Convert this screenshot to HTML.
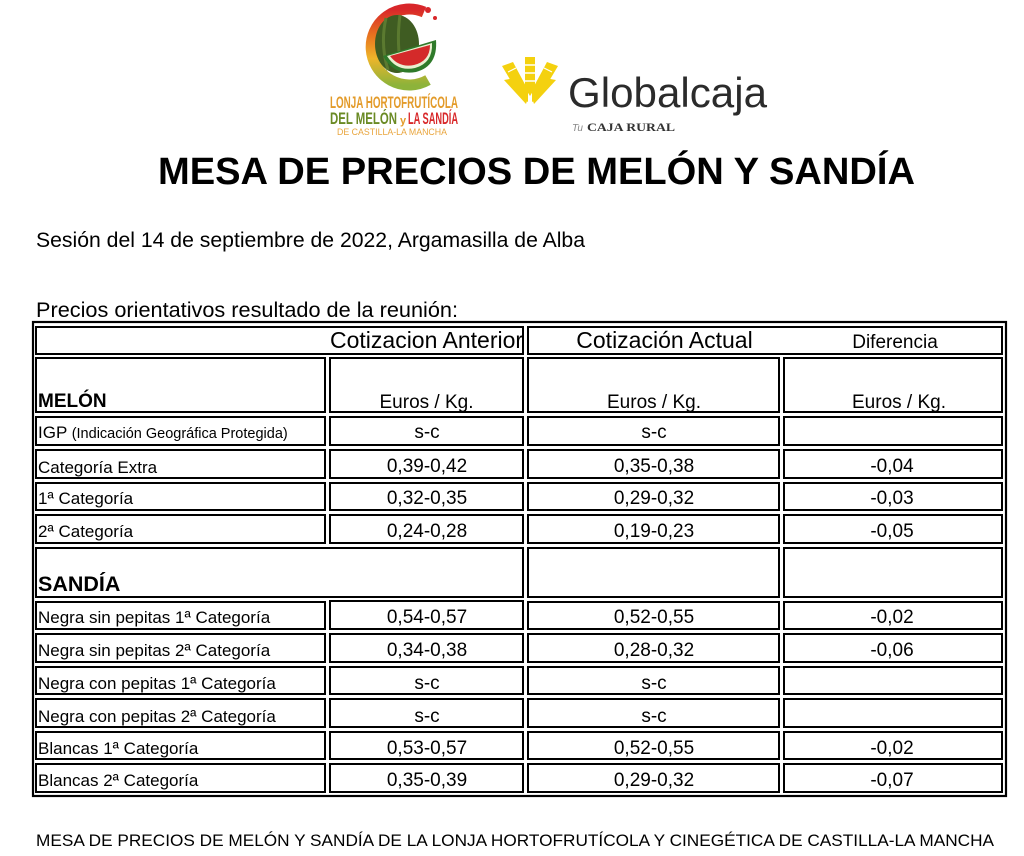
<!DOCTYPE html>
<html>
<head>
<meta charset="utf-8">
<style>
html,body{margin:0;padding:0;background:#fff;}
svg{display:block;}
text{font-family:"Liberation Sans",Arial,sans-serif;fill:#000;}
.lbl{font-size:17px;}
.val{font-size:19px;text-anchor:middle;}
</style>
</head>
<body>
<svg width="1024" height="856" viewBox="0 0 1024 856" xmlns="http://www.w3.org/2000/svg">
<defs>
  <linearGradient id="ring" x1="0" y1="0" x2="0" y2="1">
    <stop offset="0" stop-color="#d8262a"/>
    <stop offset="0.35" stop-color="#e8741f"/>
    <stop offset="0.65" stop-color="#eeb52a"/>
    <stop offset="1" stop-color="#8db33a"/>
  </linearGradient>
  <clipPath id="hdrclip"><rect x="36" y="326" width="486" height="29"/></clipPath>
</defs>
<rect width="1024" height="856" fill="#fff"/>

<!-- Left logo -->
<g>
  <path d="M424 12 A38 38 0 1 0 428 80" fill="none" stroke="url(#ring)" stroke-width="11"/>
  <circle cx="428" cy="10" r="3" fill="#d8262a"/>
  <circle cx="435" cy="18" r="2" fill="#d8262a"/>
  <ellipse cx="397" cy="44" rx="22" ry="29" fill="#3f5c22"/>
  <path d="M386 18 Q380 44 388 70" stroke="#5b7a30" stroke-width="3" fill="none"/>
  <path d="M400 15 Q396 44 402 72" stroke="#5b7a30" stroke-width="3" fill="none"/>
  <path d="M383 56 L436 40 Q438 66 416 72 Q394 76 383 56 Z" fill="#2f7a2a"/>
  <path d="M387 56 L432 43 Q433 63 415 68 Q397 72 387 56 Z" fill="#e9f0d0"/>
  <path d="M390 56 L430 45 Q430 61 414 65 Q399 68 390 56 Z" fill="#d42a2a"/>
  <text x="330" y="108" font-size="17" font-weight="bold" style="fill:#e39b2a" textLength="128" lengthAdjust="spacingAndGlyphs">LONJA HORTOFRUTÍCOLA</text>
  <text x="330" y="124" font-size="17" font-weight="bold" style="fill:#6a8a24" textLength="67" lengthAdjust="spacingAndGlyphs">DEL MELÓN</text>
  <text x="400" y="124" font-size="11" font-weight="bold" style="fill:#e39b2a">y</text>
  <text x="408" y="124" font-size="17" font-weight="bold" style="fill:#d8282a" textLength="50" lengthAdjust="spacingAndGlyphs">LA SANDÍA</text>
  <text x="337" y="135" font-size="9" style="fill:#e9a53d" textLength="110" lengthAdjust="spacingAndGlyphs">DE CASTILLA-LA MANCHA</text>
</g>

<!-- Globalcaja logo -->
<g fill="#f4d10f">
  <path d="M525 57 L535 57 L535 88 L530 96 L525 88 Z"/>
  <path d="M502 66 L513 62 L528 90 L528 102 L521 98 Z"/>
  <path d="M558 66 L547 62 L532 90 L532 102 L539 98 Z"/>
  <path d="M504 80 L515 78 L528 98 L526 104 Z"/>
  <path d="M556 80 L545 78 L532 98 L534 104 Z"/>
  <line x1="524" y1="65" x2="536" y2="65" stroke="#fff" stroke-width="1.5"/>
  <line x1="524" y1="73" x2="536" y2="73" stroke="#fff" stroke-width="1.5"/>
  <line x1="524" y1="81" x2="536" y2="81" stroke="#fff" stroke-width="1.5"/>
  <line x1="508" y1="72" x2="516" y2="68" stroke="#fff" stroke-width="1.2"/>
  <line x1="552" y1="72" x2="544" y2="68" stroke="#fff" stroke-width="1.2"/>
</g>
<text x="568" y="107" font-size="42" style="fill:#2b2b2b" textLength="199" lengthAdjust="spacingAndGlyphs">Globalcaja</text>
<text x="572" y="131" font-size="10" font-style="italic" style="fill:#888">Tu</text>
<text x="587" y="131" font-size="12" font-weight="bold" style="fill:#333;font-family:'Liberation Serif',serif" textLength="88" lengthAdjust="spacingAndGlyphs">CAJA RURAL</text>

<!-- Title -->
<text x="536.5" y="184" font-size="38" font-weight="bold" text-anchor="middle" textLength="757" lengthAdjust="spacingAndGlyphs">MESA DE PRECIOS DE MELÓN Y SANDÍA</text>

<text x="36" y="247" font-size="21" textLength="549" lengthAdjust="spacingAndGlyphs">Sesión del 14 de septiembre de 2022, Argamasilla de Alba</text>
<text x="36" y="317" font-size="21" textLength="422" lengthAdjust="spacingAndGlyphs">Precios orientativos resultado de la reunión:</text>

<!-- Table frame -->
<rect x="33" y="322" width="973" height="474" fill="none" stroke="#000" stroke-width="2.2"/>

<g fill="none" stroke="#000" stroke-width="2">
  <!-- header -->
  <rect x="36" y="327" width="487" height="27"/>
  <rect x="528" y="327" width="474" height="27"/>
  <!-- R1 -->
  <rect x="36" y="358" width="289" height="54"/>
  <rect x="330" y="358" width="193" height="54"/>
  <rect x="528" y="358" width="251" height="54"/>
  <rect x="784" y="358" width="218" height="54"/>
  <!-- R2 -->
  <rect x="36" y="417" width="289" height="28"/>
  <rect x="330" y="417" width="193" height="28"/>
  <rect x="528" y="417" width="251" height="28"/>
  <rect x="784" y="417" width="218" height="28"/>
  <!-- R3 -->
  <rect x="36" y="450" width="289" height="28"/>
  <rect x="330" y="450" width="193" height="28"/>
  <rect x="528" y="450" width="251" height="28"/>
  <rect x="784" y="450" width="218" height="28"/>
  <!-- R4 -->
  <rect x="36" y="483" width="289" height="27"/>
  <rect x="330" y="483" width="193" height="27"/>
  <rect x="528" y="483" width="251" height="27"/>
  <rect x="784" y="483" width="218" height="27"/>
  <!-- R5 -->
  <rect x="36" y="515" width="289" height="28"/>
  <rect x="330" y="515" width="193" height="28"/>
  <rect x="528" y="515" width="251" height="28"/>
  <rect x="784" y="515" width="218" height="28"/>
  <!-- R6 SANDIA -->
  <rect x="36" y="548" width="487" height="49"/>
  <rect x="528" y="548" width="251" height="49"/>
  <rect x="784" y="548" width="218" height="49"/>
  <!-- R7 -->
  <rect x="36" y="602" width="289" height="27"/>
  <rect x="330" y="601" width="193" height="28"/>
  <rect x="528" y="602" width="251" height="27"/>
  <rect x="784" y="602" width="218" height="27"/>
  <!-- R8 -->
  <rect x="36" y="634" width="289" height="28"/>
  <rect x="330" y="634" width="193" height="28"/>
  <rect x="528" y="634" width="251" height="28"/>
  <rect x="784" y="634" width="218" height="28"/>
  <!-- R9 -->
  <rect x="36" y="667" width="289" height="27"/>
  <rect x="330" y="667" width="193" height="27"/>
  <rect x="528" y="667" width="251" height="27"/>
  <rect x="784" y="667" width="218" height="27"/>
  <!-- R10 -->
  <rect x="36" y="699" width="289" height="28"/>
  <rect x="330" y="699" width="193" height="28"/>
  <rect x="528" y="699" width="251" height="28"/>
  <rect x="784" y="699" width="218" height="28"/>
  <!-- R11 -->
  <rect x="36" y="732" width="289" height="27"/>
  <rect x="330" y="732" width="193" height="27"/>
  <rect x="528" y="732" width="251" height="27"/>
  <rect x="784" y="732" width="218" height="27"/>
  <!-- R12 -->
  <rect x="36" y="764" width="289" height="28"/>
  <rect x="330" y="764" width="193" height="28"/>
  <rect x="528" y="764" width="251" height="28"/>
  <rect x="784" y="764" width="218" height="28"/>
</g>

<!-- Header texts -->
<g clip-path="url(#hdrclip)">
  <text x="330" y="348" font-size="23">Cotizacion Anterior</text>
</g>
<text x="664.5" y="348" font-size="23" text-anchor="middle">Cotización Actual</text>
<text x="895" y="348" font-size="19" text-anchor="middle">Diferencia</text>

<!-- R1 -->
<text x="38" y="407" font-size="19" font-weight="bold">MELÓN</text>
<text class="val" x="426.5" y="408">Euros / Kg.</text>
<text class="val" x="654" y="408">Euros / Kg.</text>
<text class="val" x="899" y="408">Euros / Kg.</text>

<!-- R2 -->
<text x="38" y="438" font-size="17">IGP <tspan font-size="14.5">(Indicación Geográfica Protegida)</tspan></text>
<text class="val" x="427" y="438">s-c</text>
<text class="val" x="654" y="438">s-c</text>

<!-- R3 -->
<text class="lbl" x="38" y="473">Categoría Extra</text>
<text class="val" x="427" y="472">0,39-0,42</text>
<text class="val" x="654" y="472">0,35-0,38</text>
<text class="val" x="892" y="472">-0,04</text>

<!-- R4 -->
<text class="lbl" x="38" y="504">1ª Categoría</text>
<text class="val" x="427" y="504">0,32-0,35</text>
<text class="val" x="654" y="504">0,29-0,32</text>
<text class="val" x="892" y="504">-0,03</text>

<!-- R5 -->
<text class="lbl" x="38" y="537">2ª Categoría</text>
<text class="val" x="427" y="537">0,24-0,28</text>
<text class="val" x="654" y="537">0,19-0,23</text>
<text class="val" x="892" y="537">-0,05</text>

<!-- R6 -->
<text x="38" y="591" font-size="21.5" font-weight="bold">SANDÍA</text>

<!-- R7 -->
<text class="lbl" x="38" y="623">Negra sin pepitas 1ª Categoría</text>
<text class="val" x="427" y="623">0,54-0,57</text>
<text class="val" x="654" y="623">0,52-0,55</text>
<text class="val" x="892" y="623">-0,02</text>

<!-- R8 -->
<text class="lbl" x="38" y="656">Negra sin pepitas 2ª Categoría</text>
<text class="val" x="427" y="656">0,34-0,38</text>
<text class="val" x="654" y="656">0,28-0,32</text>
<text class="val" x="892" y="656">-0,06</text>

<!-- R9 -->
<text class="lbl" x="38" y="689">Negra con pepitas 1ª Categoría</text>
<text class="val" x="427" y="689">s-c</text>
<text class="val" x="654" y="689">s-c</text>

<!-- R10 -->
<text class="lbl" x="38" y="722">Negra con pepitas 2ª Categoría</text>
<text class="val" x="427" y="722">s-c</text>
<text class="val" x="654" y="722">s-c</text>

<!-- R11 -->
<text class="lbl" x="38" y="754">Blancas 1ª Categoría</text>
<text class="val" x="427" y="754">0,53-0,57</text>
<text class="val" x="654" y="754">0,52-0,55</text>
<text class="val" x="892" y="754">-0,02</text>

<!-- R12 -->
<text class="lbl" x="38" y="786">Blancas 2ª Categoría</text>
<text class="val" x="427" y="786">0,35-0,39</text>
<text class="val" x="654" y="786">0,29-0,32</text>
<text class="val" x="892" y="786">-0,07</text>

<!-- Footer -->
<text x="36" y="846" font-size="17" textLength="958" lengthAdjust="spacingAndGlyphs">MESA DE PRECIOS DE MELÓN Y SANDÍA DE LA LONJA HORTOFRUTÍCOLA Y CINEGÉTICA DE CASTILLA-LA MANCHA</text>
</svg>
</body>
</html>
